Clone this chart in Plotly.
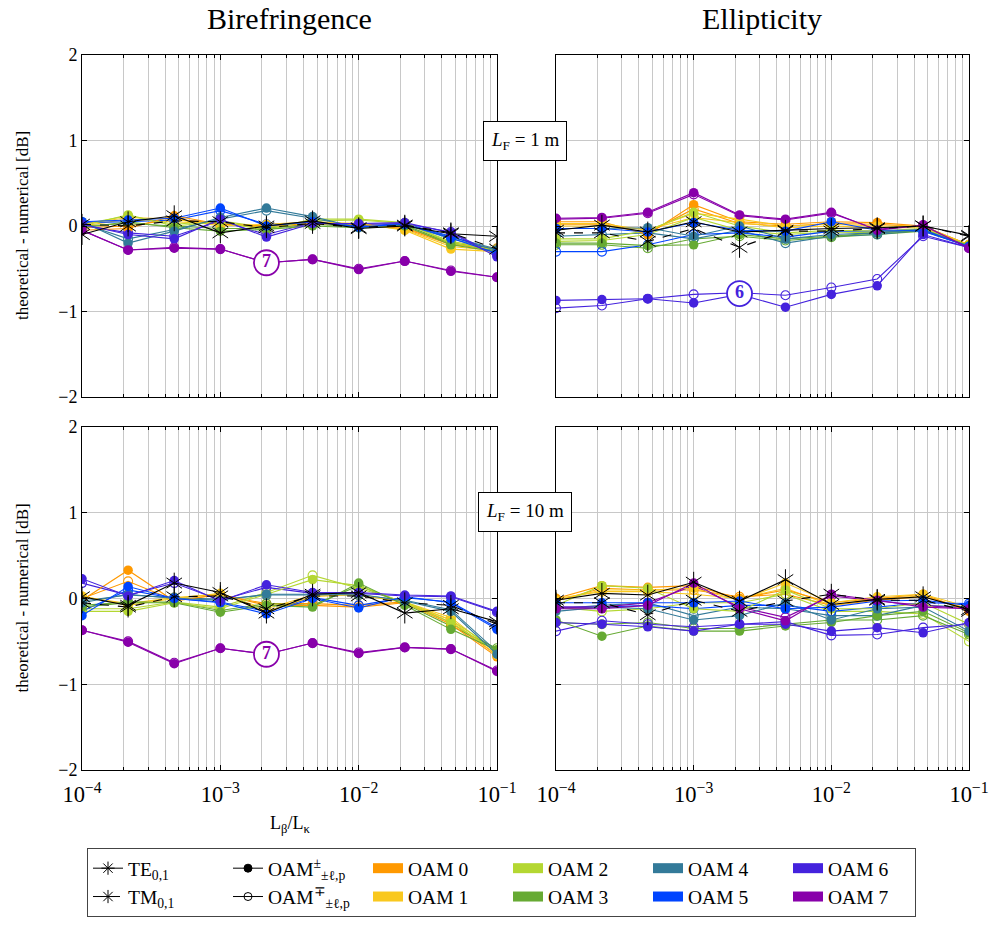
import plotly.graph_objects as go

# ---------------- data ----------------
X = [1e-4, 2.154e-4, 4.642e-4, 1e-3, 2.154e-3, 4.642e-3, 1e-2, 2.154e-2, 4.642e-2, 1e-1]

OAM_NAMES = ["OAM 0", "OAM 1", "OAM 2", "OAM 3", "OAM 4", "OAM 5", "OAM 6", "OAM 7"]
OAM_COLORS = ["#FF9900", "#F9C81E", "#B4D732", "#66AA33", "#337A99", "#0044FF", "#4422DD", "#8800AA"]

# Birefringence, L_F = 1 m
BIR1_TE = [-0.10, 0.05, 0.12, -0.08, 0.00, 0.06, -0.03, 0.00, -0.09, -0.12]
BIR1_TM = [0.02, 0.00, 0.06, 0.05, -0.02, 0.03, -0.02, 0.01, -0.08, -0.27]
BIR1_FILLED = [
    [-0.05, -0.03, 0.12, 0.02, 0.00, 0.03, 0.02, -0.03, -0.22, -0.27],
    [0.02, 0.10, 0.08, 0.00, 0.02, 0.05, 0.03, -0.05, -0.27, -0.30],
    [0.00, 0.13, 0.00, 0.05, -0.05, 0.08, 0.08, 0.04, -0.20, -0.28],
    [-0.02, 0.05, -0.02, -0.06, -0.04, 0.00, -0.02, 0.00, -0.22, -0.30],
    [0.05, -0.20, -0.06, 0.10, 0.21, 0.11, -0.02, 0.02, -0.15, -0.28],
    [0.05, 0.07, 0.09, 0.21, 0.00, 0.05, -0.01, 0.02, -0.14, -0.32],
    [0.02, -0.10, -0.15, 0.08, -0.13, 0.03, 0.03, 0.04, -0.08, -0.36],
    [-0.05, -0.28, -0.26, -0.27, -0.43, -0.39, -0.51, -0.41, -0.53, -0.60],
]
BIR1_OPEN = [
    [-0.02, 0.00, 0.08, 0.03, -0.02, 0.02, 0.03, -0.02, -0.20, -0.26],
    [0.00, 0.08, 0.05, 0.02, 0.00, 0.04, 0.02, -0.04, -0.24, -0.29],
    [0.02, 0.12, 0.02, 0.06, -0.02, 0.06, 0.07, 0.03, -0.18, -0.27],
    [0.00, 0.03, 0.00, -0.03, -0.03, 0.02, -0.01, 0.01, -0.20, -0.29],
    [0.03, -0.15, -0.04, 0.08, 0.18, 0.09, -0.01, 0.02, -0.13, -0.27],
    [0.04, 0.05, 0.07, 0.18, 0.02, 0.04, 0.00, 0.03, -0.12, -0.30],
    [0.01, -0.08, -0.12, 0.06, -0.10, 0.04, 0.02, 0.03, -0.07, -0.34],
    [-0.05, -0.28, -0.25, -0.27, -0.43, -0.39, -0.50, -0.41, -0.52, -0.60],
]

# Ellipticity, L_F = 1 m
ELL1_TE = [-0.05, 0.01, -0.07, 0.05, -0.07, -0.05, -0.03, -0.02, 0.00, -0.11]
ELL1_TM = [-0.08, -0.08, -0.18, -0.03, -0.25, -0.06, -0.06, -0.03, 0.00, -0.12]
ELL1_FILLED = [
    [0.05, 0.05, -0.10, 0.25, 0.05, 0.02, 0.05, 0.04, 0.00, -0.22],
    [0.03, 0.03, -0.05, 0.15, 0.08, 0.00, 0.02, 0.00, 0.00, -0.22],
    [-0.15, -0.15, -0.05, 0.16, 0.00, -0.08, -0.05, -0.06, -0.03, -0.23],
    [-0.20, -0.20, -0.23, -0.22, -0.10, -0.15, -0.12, -0.08, -0.05, -0.23],
    [-0.03, -0.03, -0.02, -0.12, 0.00, -0.15, -0.10, -0.08, -0.04, -0.24],
    [-0.03, -0.03, -0.07, 0.04, -0.05, -0.06, 0.05, -0.05, -0.05, -0.24],
    [-0.87, -0.86, -0.85, -0.90, -0.80, -0.95, -0.80, -0.70, -0.10, -0.25],
    [0.09, 0.10, 0.16, 0.39, 0.13, 0.08, 0.16, -0.05, 0.01, -0.26],
]
ELL1_OPEN = [
    [0.02, 0.02, -0.08, 0.20, 0.03, 0.00, 0.03, 0.02, -0.01, -0.22],
    [0.00, 0.00, -0.04, 0.10, 0.04, -0.02, 0.00, -0.02, -0.02, -0.22],
    [-0.18, -0.17, -0.10, 0.10, -0.05, -0.10, -0.07, -0.08, -0.04, -0.23],
    [-0.22, -0.22, -0.26, -0.15, -0.12, -0.17, -0.13, -0.10, -0.06, -0.23],
    [-0.12, -0.10, -0.08, -0.15, -0.05, -0.20, -0.12, -0.10, -0.05, -0.24],
    [-0.30, -0.30, -0.22, -0.10, -0.08, -0.13, -0.06, -0.06, -0.06, -0.24],
    [-0.96, -0.93, -0.85, -0.80, -0.78, -0.81, -0.72, -0.62, -0.12, -0.25],
    [0.08, 0.09, 0.15, 0.37, 0.12, 0.07, 0.15, -0.04, 0.01, -0.26],
]

# Birefringence, L_F = 10 m
BIR10_TE = [0.02, -0.08, 0.18, 0.07, -0.17, 0.05, 0.07, -0.17, -0.12, -0.27]
BIR10_TM = [-0.05, -0.10, 0.02, 0.03, -0.12, 0.03, 0.03, -0.05, -0.08, -0.30]
BIR10_FILLED = [
    [-0.02, 0.33, -0.03, 0.05, -0.08, -0.08, -0.10, -0.05, -0.30, -0.68],
    [0.03, -0.08, 0.00, 0.06, -0.15, 0.02, 0.05, -0.05, -0.25, -0.66],
    [-0.15, -0.15, -0.05, -0.12, 0.05, 0.22, 0.15, -0.05, -0.28, -0.62],
    [-0.10, -0.05, -0.05, -0.16, -0.08, -0.10, 0.18, -0.08, -0.36, -0.60],
    [-0.05, 0.05, 0.00, -0.02, 0.05, 0.05, 0.05, -0.03, -0.15, -0.65],
    [-0.20, 0.14, 0.00, -0.05, -0.18, 0.00, -0.11, 0.02, -0.05, -0.36],
    [0.23, 0.03, 0.21, -0.03, 0.16, 0.07, 0.07, 0.04, 0.03, -0.15],
    [-0.37, -0.51, -0.76, -0.58, -0.65, -0.52, -0.64, -0.57, -0.59, -0.85],
]
BIR10_OPEN = [
    [0.00, 0.20, -0.02, 0.04, -0.06, -0.06, -0.08, -0.04, -0.28, -0.66],
    [0.02, -0.06, 0.01, 0.05, -0.12, 0.04, 0.04, -0.04, -0.22, -0.64],
    [-0.12, -0.12, -0.04, -0.10, 0.07, 0.27, 0.12, -0.04, -0.25, -0.60],
    [-0.08, -0.04, -0.04, -0.14, -0.06, -0.08, 0.15, -0.06, -0.32, -0.58],
    [-0.03, 0.04, 0.01, -0.01, 0.04, 0.04, 0.04, -0.02, -0.13, -0.62],
    [-0.15, 0.10, 0.00, -0.04, -0.15, 0.01, -0.08, 0.01, -0.04, -0.34],
    [0.18, 0.04, 0.18, -0.02, 0.13, 0.06, 0.06, 0.03, 0.02, -0.16],
    [-0.37, -0.50, -0.75, -0.58, -0.65, -0.52, -0.63, -0.57, -0.59, -0.84],
]

# Ellipticity, L_F = 10 m
ELL10_TE = [-0.02, 0.06, 0.04, 0.19, -0.03, 0.22, -0.07, -0.01, 0.02, -0.13]
ELL10_TM = [-0.05, -0.05, -0.19, -0.02, -0.15, -0.03, 0.05, -0.02, -0.02, -0.15]
ELL10_FILLED = [
    [0.00, 0.15, 0.13, 0.15, 0.00, 0.10, -0.05, 0.00, 0.05, -0.15],
    [-0.02, 0.10, 0.10, 0.12, -0.02, 0.18, -0.05, 0.02, 0.05, -0.10],
    [-0.08, 0.15, 0.12, -0.12, -0.15, 0.10, -0.12, -0.12, -0.05, -0.30],
    [-0.25, -0.44, -0.32, -0.38, -0.38, -0.32, -0.28, -0.20, -0.15, -0.40],
    [-0.15, -0.10, -0.12, -0.25, -0.20, -0.05, -0.25, -0.12, -0.10, -0.38],
    [-0.05, -0.05, -0.05, -0.05, -0.03, -0.12, -0.10, -0.03, -0.02, -0.08],
    [-0.28, -0.30, -0.33, -0.38, -0.30, -0.30, -0.38, -0.34, -0.40, -0.28],
    [-0.12, -0.12, -0.08, 0.18, -0.12, -0.26, 0.05, -0.02, -0.10, -0.12],
]
ELL10_OPEN = [
    [-0.03, 0.12, 0.10, 0.10, 0.02, 0.05, -0.08, -0.02, 0.02, -0.12],
    [0.00, 0.08, 0.08, 0.05, 0.00, 0.12, -0.08, 0.00, 0.03, -0.12],
    [-0.10, -0.15, -0.12, -0.05, -0.05, 0.05, -0.15, -0.15, -0.18, -0.50],
    [-0.28, -0.30, -0.28, -0.35, -0.35, -0.30, -0.25, -0.25, -0.20, -0.42],
    [-0.12, -0.08, -0.05, -0.20, -0.10, -0.12, -0.20, -0.20, -0.08, -0.10],
    [-0.10, -0.10, -0.08, -0.12, -0.08, -0.08, -0.15, -0.10, -0.05, -0.06],
    [-0.38, -0.26, -0.30, -0.33, -0.30, -0.27, -0.43, -0.42, -0.34, -0.30],
    [-0.10, -0.10, -0.05, 0.15, -0.10, -0.22, 0.03, -0.03, -0.08, -0.12],
]

Y_TICKS = [-2, -1, 0, 1, 2]
COL_TITLES = ["Birefringence", "Ellipticity"]
ROW_LABELS = ["<i>L</i><sub>F</sub> = 1 m", "<i>L</i><sub>F</sub> = 10 m"]

# ---------------- geometry helpers ----------------
W, H = 992, 926
ML, MR = 40, 20
PW = W - ML - MR


def xp(px):
    return (px - ML) / PW


def yp(py):
    return 1 - py / H


FONT = "Liberation Serif"
GRID = "#c8c8c8"

fig = go.Figure()

panels = [
    ("x", "y", BIR1_TE, BIR1_TM, BIR1_FILLED, BIR1_OPEN),
    ("x2", "y2", ELL1_TE, ELL1_TM, ELL1_FILLED, ELL1_OPEN),
    ("x3", "y3", BIR10_TE, BIR10_TM, BIR10_FILLED, BIR10_OPEN),
    ("x4", "y4", ELL10_TE, ELL10_TM, ELL10_FILLED, ELL10_OPEN),
]

for xa, ya, te, tm, filled, opened in panels:
    for k in range(8):
        fig.add_trace(go.Scatter(
            x=X, y=opened[k], xaxis=xa, yaxis=ya, mode="lines+markers",
            line=dict(color=OAM_COLORS[k], width=1.1),
            marker=dict(symbol="circle-open", size=9, color=OAM_COLORS[k], line=dict(width=1.1)),
            showlegend=False, hoverinfo="skip"))
    for k in range(8):
        fig.add_trace(go.Scatter(
            x=X, y=filled[k], xaxis=xa, yaxis=ya, mode="lines+markers",
            line=dict(color=OAM_COLORS[k], width=1.1),
            marker=dict(symbol="circle", size=9.5, color=OAM_COLORS[k]),
            showlegend=False, hoverinfo="skip"))
    for vals, dash in ((tm, "dash"), (te, "solid")):
        fig.add_trace(go.Scatter(
            x=X, y=vals, xaxis=xa, yaxis=ya, mode="lines+markers",
            line=dict(color="black", width=1.1, dash=dash),
            marker=dict(symbol="y-up-open", size=13, color="black", line=dict(width=1, color="black")),
            showlegend=False, hoverinfo="skip"))
        fig.add_trace(go.Scatter(
            x=X, y=vals, xaxis=xa, yaxis=ya, mode="markers",
            marker=dict(symbol="y-down-open", size=13, color="black", line=dict(width=1, color="black")),
            showlegend=False, hoverinfo="skip"))

# circled mode labels, placed on the labelled series
labels = [("x", "y", BIR1_FILLED, 7), ("x2", "y2", ELL1_FILLED, 6), ("x3", "y3", BIR10_FILLED, 7)]
for xa, ya, series, k in labels:
    yv = series[k][4]
    if xa == "x2":
        yv = (ELL1_FILLED[6][4] + ELL1_OPEN[6][4]) / 2
    fig.add_trace(go.Scatter(
        x=[X[4]], y=[yv], xaxis=xa, yaxis=ya, mode="markers+text",
        marker=dict(symbol="circle", size=25, color="white", line=dict(color=OAM_COLORS[k], width=1.8)),
        text=["<b>%d</b>" % k], textposition="middle center",
        textfont=dict(family=FONT, size=18, color=OAM_COLORS[k]),
        showlegend=False, hoverinfo="skip"))


# legend entries (row-major: row 1 then row 2)
def leg_line(name, dash, symbol, size):
    fig.add_trace(go.Scatter(x=[None], y=[None], mode="lines+markers", name=name,
                             line=dict(color="black", width=1, dash=dash),
                             marker=dict(symbol=symbol, size=size, color="black",
                                         line=dict(color="black", width=1))))


def leg_patch(k, lw=None):
    fig.add_trace(go.Scatter(x=[None], y=[None], mode="lines", name=OAM_NAMES[k],
                             line=dict(color=OAM_COLORS[k], width=10), legendwidth=lw))


leg_line("TE<sub>0,1</sub>", "solid", "asterisk-open", 11)
leg_line("OAM<sup>±</sup><sub>±ℓ,p</sub>", "solid", "circle", 8)
for k in (0, 2, 4):
    leg_patch(k)
leg_patch(6, 82)
leg_line("TM<sub>0,1</sub>", "dash", "asterisk-open", 11)
leg_line("OAM<sup>∓</sup><sub>±ℓ,p</sub>", "solid", "circle-open", 8)
for k in (1, 3, 5):
    leg_patch(k)
leg_patch(7, 82)

# ---------------- axes ----------------
x_doms = [(xp(82), xp(497)), (xp(556), xp(969))]
y_doms = [(yp(397), yp(55)), (yp(770), yp(427))]

axis_common = dict(showline=True, linecolor="black", linewidth=1, mirror="ticks",
                   ticks="inside", tickcolor="black", ticklen=5, showgrid=True,
                   gridcolor=GRID, gridwidth=1, zeroline=False,
                   tickfont=dict(family=FONT, size=18, color="black"))

layout_axes = {}
idx = 0
for r in range(2):
    for c in range(2):
        idx += 1
        sx = "" if idx == 1 else str(idx)
        layout_axes["xaxis" + sx] = dict(
            axis_common, type="log", range=[-4, -1], domain=list(x_doms[c]),
            anchor="y" + sx, tickmode="linear", tick0=0, dtick=1,
            exponentformat="power", showticklabels=(r == 1), ticklabelstandoff=5,
            minor=dict(dtick="D1", ticks="inside", ticklen=3, tickcolor="black",
                       showgrid=True, gridcolor=GRID, gridwidth=1))
        layout_axes["yaxis" + sx] = dict(
            axis_common, range=[-2, 2], domain=list(y_doms[r]), anchor="x" + sx,
            tickmode="array", tickvals=Y_TICKS, showticklabels=(c == 0))

fig.update_layout(**layout_axes)

ann = []
for c, t in enumerate(COL_TITLES):
    cx = (x_doms[c][0] + x_doms[c][1]) / 2
    ann.append(dict(x=cx, y=yp(19), xref="paper", yref="paper", text=t, showarrow=False,
                    font=dict(family=FONT, size=30, color="black"), xanchor="center", yanchor="middle"))
for r, (lab, cy) in enumerate(zip(ROW_LABELS, (141, 512))):
    ann.append(dict(x=xp(525), y=yp(cy), xref="paper", yref="paper", text=lab, showarrow=False,
                    font=dict(family=FONT, size=19, color="black"), bgcolor="white",
                    bordercolor="black", borderwidth=1, borderpad=7,
                    xanchor="center", yanchor="middle"))
    ann.append(dict(x=xp(22), y=(y_doms[r][0] + y_doms[r][1]) / 2, xref="paper", yref="paper",
                    text="theoretical - numerical [dB]", textangle=-90, showarrow=False,
                    font=dict(family=FONT, size=17, color="black"), xanchor="center", yanchor="middle"))
ann.append(dict(x=(x_doms[0][0] + x_doms[0][1]) / 2, y=yp(824), xref="paper", yref="paper",
                text="L<sub>β</sub>/L<sub>κ</sub>", showarrow=False,
                font=dict(family=FONT, size=18, color="black"), xanchor="center", yanchor="middle"))

fig.update_layout(
    width=W, height=H, margin=dict(l=ML, r=MR, t=0, b=0, autoexpand=False),
    paper_bgcolor="white", plot_bgcolor="white",
    annotations=ann,
    showlegend=True,
    legend=dict(orientation="h", x=xp(87), y=yp(848), xanchor="left", yanchor="top",
                entrywidth=95, entrywidthmode="pixels", traceorder="normal",
                bordercolor="#444444", borderwidth=1, bgcolor="white",
                font=dict(family=FONT, size=19.5, color="black"), itemwidth=30),
)

fig.write_html("out.html")
